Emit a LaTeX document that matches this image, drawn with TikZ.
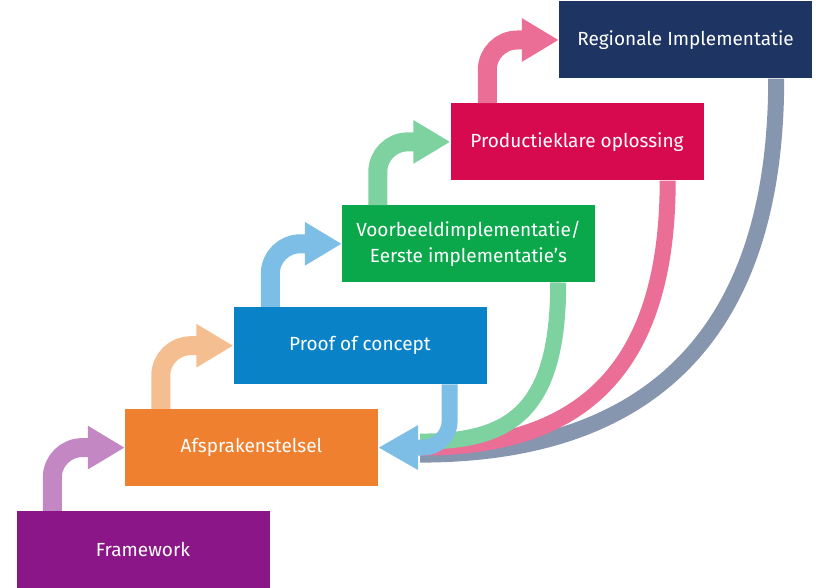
\documentclass[tikz,border=0pt]{standalone}
\usepackage{fontspec}
\setmainfont{Fira Sans}
\usetikzlibrary{positioning, arrows.meta}

\definecolor{cfw}{RGB}{139,22,135}
\definecolor{cafs}{RGB}{238,128,48}
\definecolor{cpoc}{RGB}{10,130,200}
\definecolor{cvb}{RGB}{10,168,75}
\definecolor{cprod}{RGB}{215,10,80}
\definecolor{creg}{RGB}{30,52,98}
\definecolor{lfw}{RGB}{195,135,195}
\definecolor{lafs}{RGB}{245,190,145}
\definecolor{lpoc}{RGB}{125,190,230}
\definecolor{lvb}{RGB}{125,210,160}
\definecolor{lprod}{RGB}{235,110,150}
\definecolor{lreg}{RGB}{135,150,175}

\begin{document}
\begin{tikzpicture}[x=1pt, y=1pt, node distance=24.5pt,
	box/.style={rectangle, minimum width=253pt, minimum height=77pt, inner sep=0pt, text=white, align=center, font=\fontsize{19}{26}\selectfont},
	up/.style={line width=19pt, rounded corners=30pt, -{Triangle[length=37pt, width=41pt]}},
	dn/.style={line width=16pt}]
	\useasboundingbox (0,0) rectangle (816,588);

	\node[box, fill=cfw] (fw) at (143,38.5) {Framework};
	\node[box, fill=cafs, above=of fw, xshift=108.5pt] (afs) {Afsprakenstelsel};
	\node[box, fill=cpoc, above=of afs, xshift=108.5pt] (poc) {Proof of concept};
	\node[box, fill=cvb, above=of poc, xshift=108.5pt] (vb) {Voorbeeldimplementatie/\\Eerste implementatie’s};
	\node[box, fill=cprod, above=of vb, xshift=108.5pt] (prod) {Productieklare oplossing};
	\node[box, fill=creg, above=of prod, xshift=108.5pt] (reg) {Regionale Implementatie};

	% steps up
	\draw[up, lfw] ([xshift=36pt]fw.north west) |- (afs.west);
	\draw[up, lafs] ([xshift=36pt]afs.north west) |- (poc.west);
	\draw[up, lpoc] ([xshift=37pt]poc.north west) |- (vb.west);
	\draw[up, lvb] ([xshift=36pt]vb.north west) |- (prod.west);
	\draw[up, lprod] ([xshift=37pt]prod.north west) |- (reg.west);

	% back to the afsprakenstelsel
	\draw[dn, lreg] ([xshift=-36pt]reg.south east) .. controls +(0,-270) and +(215,0) .. ([xshift=42pt, yshift=-7pt]afs.east);
	\draw[dn, lprod] ([xshift=-36pt]prod.south east) .. controls +(0,-210) and +(140,0) .. ([xshift=42pt]afs.east);
	\draw[dn, lvb] ([xshift=-37pt]vb.south east) .. controls +(0,-130) and +(90,0) .. ([xshift=42pt, yshift=6pt]afs.east);
	\draw[dn, lpoc, rounded corners=27pt, -{Triangle[length=40pt, width=42pt]}] ([xshift=-37pt]poc.south east) |- (afs.east);
\end{tikzpicture}
\end{document}
